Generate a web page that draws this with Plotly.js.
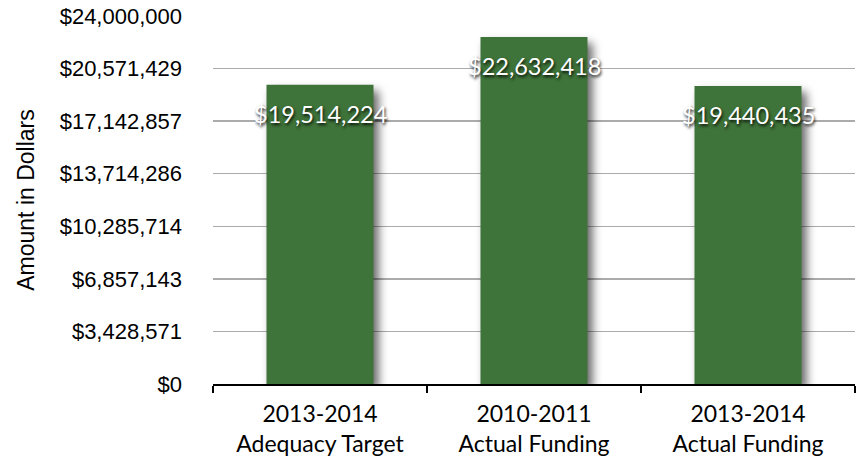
<!DOCTYPE html>
<html>
<head>
<meta charset="utf-8">
<script src="https://cdn.plot.ly/plotly-3.0.1.min.js"></script>
<style>
  html, body { margin: 0; padding: 0; background: #fff; }
  #chart { width: 861px; height: 466px; }
  #chart .bars path { filter: drop-shadow(5px 6px 5px rgba(0,0,0,0.6)); }
</style>
</head>
<body>
<div id="chart"></div>
<script>
const categories = ["2013-2014<br>Adequacy Target", "2010-2011<br>Actual Funding", "2013-2014<br>Actual Funding"];
const amounts = [19514224, 22632418, 19440435];
const valueLabels = ["$19,514,224", "$22,632,418", "$19,440,435"];
const yTickVals = [0, 3428571, 6857143, 10285714, 13714286, 17142857, 20571429, 24000000];
const yTickText = ["$0", "$3,428,571", "$6,857,143", "$10,285,714", "$13,714,286", "$17,142,857", "$20,571,429", "$24,000,000"];

const trace = {
  type: "bar",
  x: categories,
  y: amounts,
  marker: { color: "#3e7339", line: { width: 0 } },
  hoverinfo: "none"
};

const annotations = categories.map((c, i) => ({
  x: c, y: amounts[i], xref: "x", yref: "y",
  text: valueLabels[i], showarrow: false,
  yanchor: "middle", yshift: -29,
  font: { family: "Lato, sans-serif", size: 23.5, color: "#ffffff", shadow: "1px 2px 3px rgba(0,0,0,0.85)" }
}));

const layout = {
  width: 861, height: 466,
  margin: { l: 213, r: 6, t: 16, b: 82 },
  paper_bgcolor: "#ffffff", plot_bgcolor: "#ffffff",
  showlegend: false,
  bargap: 0.5,
  font: { family: "Liberation Sans, Arial, sans-serif", color: "#000" },
  xaxis: {
    type: "category",
    range: [-0.5, 2.5],
    showline: true, linecolor: "#000", linewidth: 2,
    ticks: "outside", tickson: "boundaries", ticklen: 7, tickwidth: 2, tickcolor: "#000",
    showgrid: false, zeroline: false,
    ticklabelstandoff: 8,
    tickfont: { family: "Lato, sans-serif", size: 23, color: "#000" },
    fixedrange: true
  },
  yaxis: {
    range: [0, 24000000],
    tickvals: yTickVals, ticktext: yTickText,
    showgrid: true, gridcolor: "#ababab", gridwidth: 1.5,
    zeroline: false, showline: false, ticks: "",
    ticklabelstandoff: 30,
    tickfont: { family: "Liberation Sans, Arial, sans-serif", size: 22, color: "#000" },
    title: { text: "Amount in Dollars", font: { family: "Liberation Sans, Arial, sans-serif", size: 23, color: "#000" }, standoff: 18 },
    fixedrange: true
  },
  annotations: annotations
};

Plotly.newPlot("chart", [trace], layout, { displayModeBar: false, staticPlot: true });
</script>
</body>
</html>
